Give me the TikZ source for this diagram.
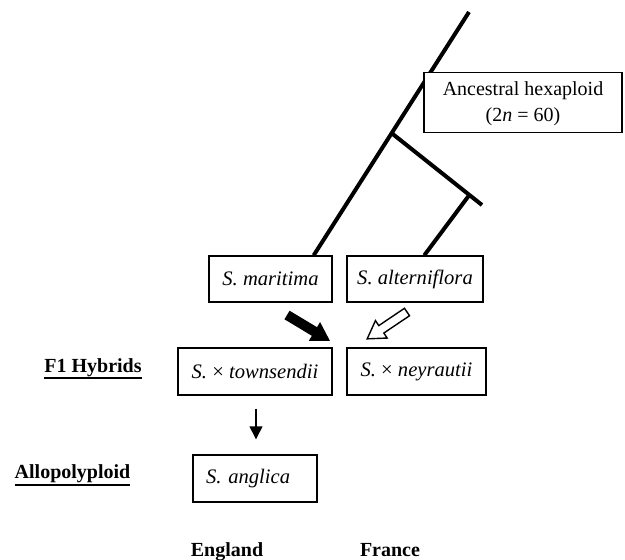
\documentclass[tikz,border=0pt]{standalone}
\usepackage{fontspec}
\setmainfont{Liberation Serif}
\usetikzlibrary{calc,arrows.meta}
\begin{document}
\begin{tikzpicture}[x=1pt,y=-1pt,
  every node/.style={font=\fontsize{20}{26}\selectfont},
  box/.style={draw,line width=1.4pt,fill=white,inner sep=0pt,font=\fontsize{20.6}{26}\selectfont\itshape},
  branch/.style={line width=4pt},
  lbl/.style={font=\fontsize{20}{24}\selectfont\bfseries,inner sep=0pt,anchor=base},
  uline/.style={line width=1.8pt},
  blockarrow/.style={line width=1.4pt,line join=miter}]
\useasboundingbox (0,0) rectangle (625,560);
% species boxes
\node[box,minimum width=123pt,minimum height=46pt] (maritima) at (270.5,279) {S. maritima};
\node[box,minimum width=136pt,minimum height=46pt] (alterniflora) at (415,279) {S. alterniflora};
\node[box,minimum width=154pt,minimum height=47pt] (townsendii) at (255,371.5) {S. \textup{×} townsendii};
\node[box,minimum width=139pt,minimum height=47pt] (neyrautii) at (416.5,371.5) {S. \textup{×} neyrautii};
\node[box,minimum width=124pt,minimum height=47pt,text width=98pt,align=left,inner xsep=13pt] (anglica) at (255,478.5) {S. anglica};
% tree
\coordinate (top) at (469,12);
\coordinate (mtop) at ([xshift=-19pt]maritima.north east);
\coordinate (atop) at ([xshift=78pt]alterniflora.north west);
\coordinate (split) at ($(mtop)!0.502!(top)$);
\coordinate (send) at (482,205);
\coordinate (join) at ($(split)!0.86!(send)$);
\draw[branch] (mtop) -- (top);
\draw[branch] (split) -- (send);
\draw[branch] (atop) -- (join);
% ancestral box drawn over the trunk
\node[draw,line width=1.4pt,fill=white,minimum width=198pt,minimum height=60pt,inner sep=0pt] (anc) at (523,102.5) {};
\node[align=center,font=\fontsize{20}{26}\selectfont] (anctext) at (523,104) {Ancestral hexaploid\\(2\textit{n} = 60)};
% block arrows
\coordinate (btail) at (287,315);
\coordinate (wtail) at (407,312);
\fill[shift={(btail)},rotate=-31] (0,-5) -- (32,-5) -- (32,-11) -- (50,0) -- (32,11) -- (32,5) -- (0,5) -- cycle;
\draw[blockarrow,shift={(wtail)},rotate=-146] (0,-4.5) -- (31,-4.5) -- (31,-10.5) -- (48,0) -- (31,10.5) -- (31,4.5) -- (0,4.5) -- cycle;
% down arrow
\draw[line width=1.4pt,-{Triangle[length=13pt,width=13pt]}] ([xshift=1pt,yshift=-13pt]townsendii.south) -- ([xshift=1pt,yshift=15pt]anglica.north);
% labels
\node[lbl] (f1) at (93,372) {F1 Hybrids};
\draw[uline] ([yshift=-6pt]f1.base west) -- ([yshift=-6pt]f1.base east);
\node[lbl] (allo) at (72.5,478) {Allopolyploid};
\draw[uline] ([yshift=-7pt]allo.base west) -- ([yshift=-7pt]allo.base east);
\node[lbl] (eng) at (227,556) {England};
\node[lbl] (fra) at (390,556) {France};
\end{tikzpicture}
\end{document}
